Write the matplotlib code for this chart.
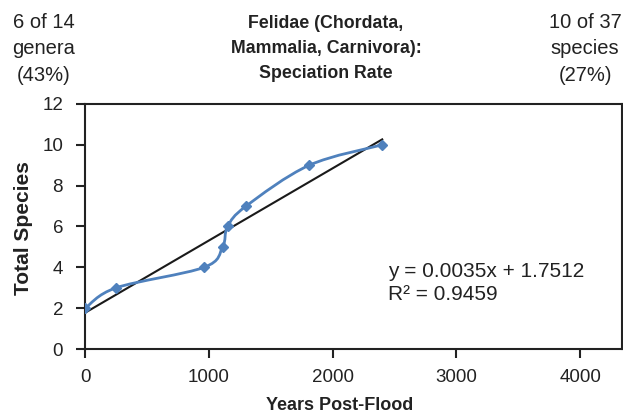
import numpy as np
import matplotlib
matplotlib.use('Agg')
import matplotlib.pyplot as plt
from matplotlib.path import Path
from matplotlib.patches import PathPatch

plt.rcParams['font.family'] = ['Liberation Sans', 'DejaVu Sans']

years = [0, 250, 960, 1110, 1150, 1300, 1810, 2400]
species = [2, 3, 4, 5, 6, 7, 9, 10]
x_ticks = [0, 1000, 2000, 3000, 4000]
y_ticks = [0, 2, 4, 6, 8, 10, 12]
eq_text = 'y = 0.0035x + 1.7512\nR\u00b2 = 0.9459'

blue = '#4F81BD'
ink = '#222222'

fig = plt.figure(figsize=(6.23, 4.15), dpi=100)
ax = fig.add_axes([85.3 / 623, 1 - 349 / 415, 536.5 / 623, 245 / 415])

# smoothed line like excel (bezier through the points)
x = np.array(years, dtype=float)
y = np.array(species, dtype=float)
n = len(x)
verts = [(x[0], y[0])]
codes = [Path.MOVETO]
for i in range(n - 1):
    i0 = max(i - 1, 0)
    i3 = min(i + 2, n - 1)
    c1 = (x[i] + (x[i + 1] - x[i0]) / 6, y[i] + (y[i + 1] - y[i0]) / 6)
    c2 = (x[i + 1] - (x[i3] - x[i]) / 6, y[i + 1] - (y[i3] - y[i]) / 6)
    verts += [c1, c2, (x[i + 1], y[i + 1])]
    codes += [Path.CURVE4] * 3
ax.add_patch(PathPatch(Path(verts, codes), facecolor='none', edgecolor=blue, lw=2.0, zorder=3))
ax.plot(years, species, linestyle='none', marker='D', ms=5, color=blue, zorder=4)

# linear trendline
k, b = np.polyfit(x, y, 1)
tx = np.array([0, max(years)])
ax.plot(tx, k * tx + b, color='#1a1a1a', lw=1.5, zorder=2)

ax.set_xlim(0, 4337)
ax.set_ylim(0, 12)
ax.set_xticks(x_ticks)
ax.set_yticks(y_ticks)
for s in ax.spines.values():
    s.set_linewidth(1.5)
    s.set_color(ink)
ax.tick_params(direction='out', length=6.5, width=1.5, color=ink, labelsize=13.5, labelcolor=ink)
ax.tick_params(axis='y', pad=9.5)
ax.tick_params(axis='x', pad=8)

fig.text(23.5 / 623, 1 - 228 / 415, 'Total Species', rotation=90, ha='center', va='center',
         fontsize=15, fontweight='bold', color=ink)
fig.text(340 / 623, 1 - 405 / 415, 'Years Post-Flood', ha='center', va='center',
         fontsize=13, fontweight='bold', color=ink)

fig.text(44 / 623, 1 - 13 / 415, '6 of 14\ngenera\n(43%)', ha='center', va='top',
         fontsize=14.5, linespacing=1.5, color=ink)
fig.text(326 / 623, 1 - 15 / 415, 'Felidae (Chordata,\nMammalia, Carnivora):\nSpeciation Rate',
         ha='center', va='top', fontsize=12.8, fontweight='bold', linespacing=1.6, color=ink)
fig.text(585 / 623, 1 - 13 / 415, '10 of 37\nspecies\n(27%)', ha='center', va='top',
         fontsize=14.5, linespacing=1.5, color=ink)

fig.text(388 / 623, 1 - 262 / 415, eq_text, ha='left', va='top', fontsize=15,
         linespacing=1.25, color=ink)

fig.savefig('out.png', dpi=100)
